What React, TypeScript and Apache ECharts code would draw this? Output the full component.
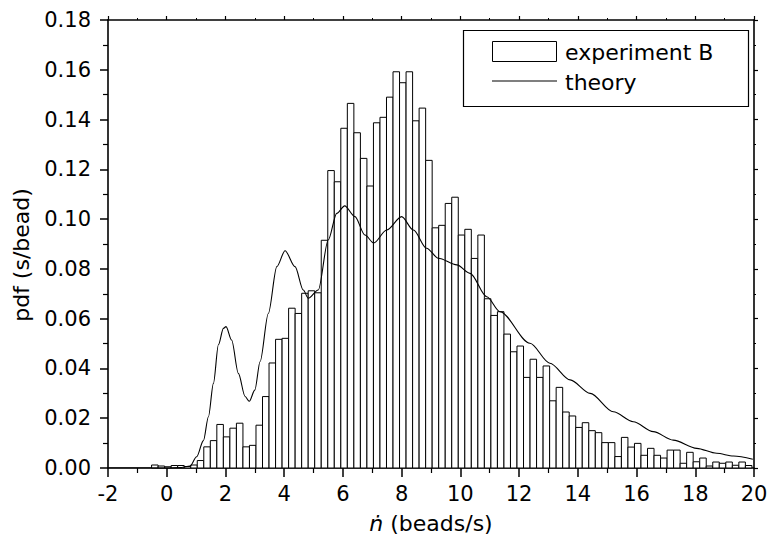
import React, { useEffect, useRef } from "react";
import * as echarts from "echarts";

// Histogram: bin k covers [binStart + k*binWidth, binStart + (k+1)*binWidth]
const binStart = 0.151 - 3 * (2 / 9);
const binWidth = 2 / 9;
const experimentB = [
  0.0012, 0.0008, 0.0005, 0.001, 0.001, 0.0006, 0.0012, 0.003, 0.0085, 0.011,
  0.0175, 0.0125, 0.016, 0.018, 0.0085, 0.0091, 0.0172, 0.0287, 0.0422, 0.0517,
  0.0521, 0.0642, 0.0621, 0.0702, 0.0712, 0.0704, 0.0915, 0.1195, 0.115, 0.1365,
  0.1465, 0.1347, 0.1244, 0.1133, 0.1387, 0.1409, 0.149, 0.1592, 0.1548, 0.1592,
  0.1395, 0.1446, 0.1236, 0.0965, 0.0975, 0.1063, 0.1088, 0.0936, 0.0959, 0.0842,
  0.0936, 0.068, 0.0613, 0.0628, 0.0538, 0.0467, 0.049, 0.0364, 0.0437, 0.0364,
  0.041, 0.027, 0.0324, 0.0225, 0.0209, 0.0163, 0.0182, 0.015, 0.0142, 0.0102,
  0.0102, 0.0046, 0.0123, 0.0084, 0.0099, 0.0051, 0.0079, 0.0051, 0.004, 0.0072,
  0.0072, 0.0019, 0.0063, 0.0025, 0.004, 0.0008, 0.0024, 0.0019, 0.0024, 0.0011,
  0.0024, 0.001,
];

const theoryX = [
  -2, 0, 0.5, 0.79, 1.02, 1.25, 1.42, 1.59, 1.76, 1.93, 2.02, 2.21, 2.44, 2.67,
  2.81, 3.0, 3.18, 3.46, 3.75, 4.03, 4.37, 4.65, 4.82, 5.16, 5.5, 5.79, 6.06,
  6.41, 6.75, 7.05, 7.49, 8.0, 8.4, 8.85, 9.25, 9.88, 10.33, 10.9, 11.35, 12.37,
  13.05, 13.74, 14.42, 15.21, 15.89, 16.57, 17.25, 18.05, 18.73, 19.3, 19.96,
];
const theoryY = [
  0, 0, 0.0002, 0.0008, 0.0045, 0.011, 0.0206, 0.034, 0.0495, 0.0561, 0.0568,
  0.0514, 0.038, 0.0287, 0.0268, 0.0313, 0.0428, 0.0621, 0.0809, 0.0873, 0.0809,
  0.0715, 0.0682, 0.0715, 0.0916, 0.1023, 0.1053, 0.101, 0.0936, 0.0904, 0.0956,
  0.101, 0.0956, 0.0883, 0.0843, 0.0816, 0.0782, 0.0688, 0.0628, 0.0501, 0.0421,
  0.0354, 0.03, 0.0226, 0.0186, 0.0146, 0.0112, 0.0079, 0.0059, 0.0048, 0.0035,
];

const xMin = -2;
const xMax = 20;
const xStep = 2;
const yMin = 0;
const yMax = 0.18;
const yStep = 0.02;

const legendLabels = ["experiment B", "theory"];
const xTitle = "{i|ṅ} (beads/s)";
const yTitle = "pdf (s/bead)";

const FONT = "DejaVu Sans";

export default function App() {
  const ref = useRef<HTMLDivElement>(null);
  useEffect(() => {
    if (!ref.current) return;
    const chart = echarts.init(ref.current, undefined, { renderer: "svg" });
    const histData = experimentB.map((v, k) => [
      binStart + k * binWidth,
      binStart + (k + 1) * binWidth,
      v,
    ]);
    const lineData = theoryX.map((x, i) => [x, theoryY[i]]);

    const axisCommon = {
      axisLine: { show: true, onZero: false, lineStyle: { color: "#000", width: 1.6 } },
      splitLine: { show: false },
      minorSplitLine: { show: false },
    };

    chart.setOption({
      animation: false,
      backgroundColor: "#fff",
      grid: { left: 108, top: 20, right: 18, bottom: 72 },
      xAxis: [
        {
          type: "value",
          position: "bottom",
          min: xMin,
          max: xMax,
          interval: xStep,
          ...axisCommon,
          axisTick: { show: true, inside: false, length: 9, lineStyle: { color: "#000", width: 1.5 } },
          minorTick: { show: true, splitNumber: 2, length: 5, lineStyle: { color: "#000", width: 1.2 } },
          axisLabel: { color: "#000", fontSize: 21, fontFamily: FONT, margin: 15 },
          name: xTitle,
          nameLocation: "middle",
          nameGap: 44,
          nameTextStyle: {
            color: "#000",
            fontSize: 22,
            fontFamily: FONT,
            rich: { i: { fontStyle: "italic", fontSize: 22, fontFamily: FONT, color: "#000" } },
          },
        },
        {
          type: "value",
          position: "top",
          min: xMin,
          max: xMax,
          interval: xStep,
          ...axisCommon,
          axisTick: { show: true, inside: false, length: 4, lineStyle: { color: "#000", width: 1.2 } },
          minorTick: { show: true, splitNumber: 2, length: 2, lineStyle: { color: "#000", width: 1 } },
          axisLabel: { show: false },
        },
      ],
      yAxis: [
        {
          type: "value",
          position: "left",
          min: yMin,
          max: yMax,
          interval: yStep,
          ...axisCommon,
          axisTick: { show: true, inside: false, length: 8, lineStyle: { color: "#000", width: 1.5 } },
          minorTick: { show: true, splitNumber: 2, length: 5, lineStyle: { color: "#000", width: 1.2 } },
          axisLabel: {
            color: "#000",
            fontSize: 21,
            fontFamily: FONT,
            margin: 17,
            formatter: (v: number) => v.toFixed(2),
          },
        },
        {
          type: "value",
          position: "right",
          min: yMin,
          max: yMax,
          interval: yStep,
          ...axisCommon,
          axisTick: { show: true, inside: false, length: 4, lineStyle: { color: "#000", width: 1.2 } },
          minorTick: { show: true, splitNumber: 2, length: 2, lineStyle: { color: "#000", width: 1 } },
          axisLabel: { show: false },
        },
      ],
      series: [
        {
          type: "custom",
          name: legendLabels[0],
          xAxisIndex: 0,
          yAxisIndex: 0,
          encode: { x: [0, 1], y: 2 },
          data: histData,
          z: 2,
          renderItem: (params: any, api: any) => {
            const p0 = api.coord([api.value(0), api.value(2)]);
            const p1 = api.coord([api.value(1), 0]);
            return {
              type: "rect",
              shape: { x: p0[0], y: p0[1], width: p1[0] - p0[0], height: p1[1] - p0[1] },
              style: { fill: "#fff", stroke: "#000", lineWidth: 1 },
            };
          },
        },
        {
          type: "line",
          name: legendLabels[1],
          xAxisIndex: 0,
          yAxisIndex: 0,
          data: lineData,
          showSymbol: false,
          smooth: 0.3,
          smoothMonotone: "x",
          z: 5,
          lineStyle: { color: "#000", width: 1.1 },
        },
      ],
      graphic: [
        {
          type: "text",
          x: 21,
          y: 255,
          rotation: Math.PI / 2,
          style: {
            text: yTitle,
            fill: "#000",
            font: `22px "${FONT}"`,
            textAlign: "center",
            textVerticalAlign: "middle",
          },
          silent: true,
        },
        {
          type: "rect",
          shape: { x: 463.5, y: 30.5, width: 285, height: 76 },
          style: { fill: "#fff", stroke: "#000", lineWidth: 1.2 },
          z: 10,
        },
        {
          type: "rect",
          shape: { x: 492.5, y: 41.5, width: 64, height: 20 },
          style: { fill: "#fff", stroke: "#000", lineWidth: 1 },
          z: 11,
        },
        {
          type: "line",
          shape: { x1: 492, y1: 81, x2: 557, y2: 81 },
          style: { stroke: "#000", lineWidth: 1.1 },
          z: 11,
        },
        {
          type: "text",
          x: 565,
          y: 52,
          style: {
            text: legendLabels[0],
            fill: "#000",
            font: `22px "${FONT}"`,
            textVerticalAlign: "middle",
          },
          z: 11,
        },
        {
          type: "text",
          x: 565,
          y: 82,
          style: {
            text: legendLabels[1],
            fill: "#000",
            font: `22px "${FONT}"`,
            textVerticalAlign: "middle",
          },
          z: 11,
        },
      ],
    });
    return () => chart.dispose();
  }, []);
  return (
    <div
      ref={ref}
      style={{ position: "absolute", left: 0, top: 0, width: 772, height: 540 }}
    />
  );
}
